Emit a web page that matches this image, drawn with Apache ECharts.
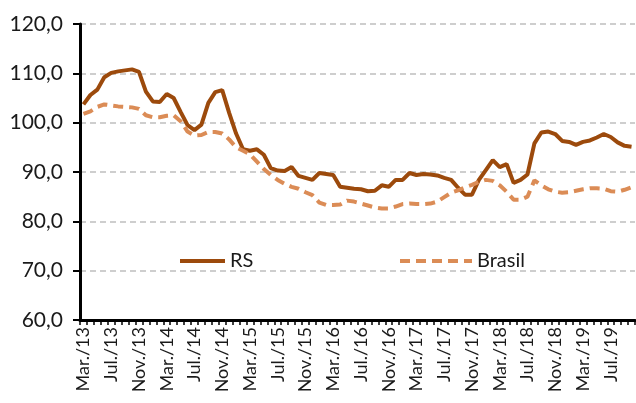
<!DOCTYPE html>
<html>
<head>
<meta charset="utf-8">
<script src="https://cdn.jsdelivr.net/npm/echarts@6/dist/echarts.min.js"></script>
<style>
html,body{margin:0;padding:0;background:#fff;}
#chart{width:636px;height:403px;}
</style>
</head>
<body>
<div id="chart"></div>
<script>
var categories = [
  'Mar./13','Abr./13','Mai./13','Jun./13','Jul./13','Ago./13','Set./13','Out./13','Nov./13','Dez./13',
  'Jan./14','Fev./14','Mar./14','Abr./14','Mai./14','Jun./14','Jul./14','Ago./14','Set./14','Out./14','Nov./14','Dez./14',
  'Jan./15','Fev./15','Mar./15','Abr./15','Mai./15','Jun./15','Jul./15','Ago./15','Set./15','Out./15','Nov./15','Dez./15',
  'Jan./16','Fev./16','Mar./16','Abr./16','Mai./16','Jun./16','Jul./16','Ago./16','Set./16','Out./16','Nov./16','Dez./16',
  'Jan./17','Fev./17','Mar./17','Abr./17','Mai./17','Jun./17','Jul./17','Ago./17','Set./17','Out./17','Nov./17','Dez./17',
  'Jan./18','Fev./18','Mar./18','Abr./18','Mai./18','Jun./18','Jul./18','Ago./18','Set./18','Out./18','Nov./18','Dez./18',
  'Jan./19','Fev./19','Mar./19','Abr./19','Mai./19','Jun./19','Jul./19','Ago./19','Set./19','Out./19'
];

var rsValues = [
  103.7,105.6,106.7,109.2,110.1,110.4,110.6,110.8,110.3,106.3,
  104.3,104.2,105.8,105.0,102.2,99.5,98.5,99.6,104.0,106.2,106.6,102.0,
  97.8,94.6,94.3,94.6,93.5,90.8,90.3,90.2,91.0,89.2,88.8,88.4,
  89.8,89.6,89.4,87.0,86.8,86.6,86.5,86.1,86.2,87.3,87.0,88.4,
  88.4,89.8,89.4,89.6,89.5,89.3,88.8,88.4,86.8,85.4,85.4,88.4,
  90.4,92.4,91.0,91.6,87.8,88.4,89.5,95.8,98.0,98.2,97.7,96.3,
  96.1,95.5,96.1,96.4,97.0,97.7,97.1,96.0,95.3,95.1
];

var brasilValues = [
  101.8,102.3,103.2,103.7,103.5,103.3,103.2,103.1,102.8,101.5,
  101.1,101.1,101.4,101.5,100.3,98.2,97.4,97.5,98.1,98.1,97.8,96.6,
  95.0,94.3,93.6,92.1,90.6,89.4,88.4,87.6,87.0,86.6,85.9,85.3,
  83.8,83.3,83.3,83.4,84.2,84.0,83.6,83.2,82.8,82.6,82.6,83.0,
  83.5,83.6,83.5,83.5,83.6,84.0,84.9,85.8,86.3,86.9,87.4,88.0,
  88.4,88.2,87.3,86.0,84.4,84.4,85.0,88.3,87.3,86.5,86.0,85.8,
  85.9,86.2,86.5,86.7,86.7,86.6,86.1,86.0,86.4,86.9
];

var yTicks = [60, 70, 80, 90, 100, 110, 120];

var chart = echarts.init(document.getElementById('chart'), null, {renderer: 'canvas'});
var fontFam = 'Lato, "Noto Sans", sans-serif';
chart.setOption({
  backgroundColor: '#ffffff',
  animation: false,
  grid: {left: 80, right: 1, top: 24, bottom: 83, containLabel: false},
  legend: [
    {
      data: ['RS'], left: 178, top: 251, padding: 0, itemWidth: 45, itemHeight: 14, itemGap: 0,
      itemStyle: {opacity: 0},
      lineStyle: {width: 4, color: '#9C4A0C'},
      textStyle: {fontFamily: fontFam, fontSize: 20, color: '#1a1a1a'}
    },
    {
      data: ['Brasil'], left: 398, top: 251, padding: 0, itemWidth: 72, itemHeight: 14, itemGap: 0,
      itemStyle: {opacity: 0},
      lineStyle: {width: 4, color: '#DB8C56', type: [10, 6]},
      textStyle: {fontFamily: fontFam, fontSize: 20, color: '#1a1a1a'}
    }
  ],
  xAxis: {
    type: 'category',
    data: categories,
    boundaryGap: true,
    axisLine: {show: true, lineStyle: {color: '#000', width: 3}},
    axisTick: {show: true, interval: 0, length: 5, lineStyle: {color: '#000', width: 1.5}},
    axisLabel: {
      interval: 3, rotate: 90, margin: 7,
      fontFamily: fontFam, fontSize: 18, color: '#1a1a1a'
    },
    splitLine: {show: false}
  },
  yAxis: {
    type: 'value',
    min: yTicks[0], max: yTicks[yTicks.length - 1], interval: 10,
    axisLine: {show: true, lineStyle: {color: '#000', width: 3}},
    axisTick: {show: true, length: 7, lineStyle: {color: '#000', width: 2}},
    axisLabel: {
      margin: 17, fontFamily: fontFam, fontSize: 21, color: '#1a1a1a',
      formatter: function (v) { return v.toFixed(1).replace('.', ','); }
    },
    splitLine: {show: true, lineStyle: {color: '#BFBFBF', width: 1.5, type: [6, 4]}}
  },
  series: [
    {
      name: 'RS', type: 'line', data: rsValues, symbol: 'none', smooth: false,
      itemStyle: {color: '#9C4A0C'},
      lineStyle: {color: '#9C4A0C', width: 4}
    },
    {
      name: 'Brasil', type: 'line', data: brasilValues, symbol: 'none', smooth: false,
      itemStyle: {color: '#DB8C56'},
      lineStyle: {color: '#DB8C56', width: 4, type: [10, 6]}
    }
  ]
});
</script>
</body>
</html>
